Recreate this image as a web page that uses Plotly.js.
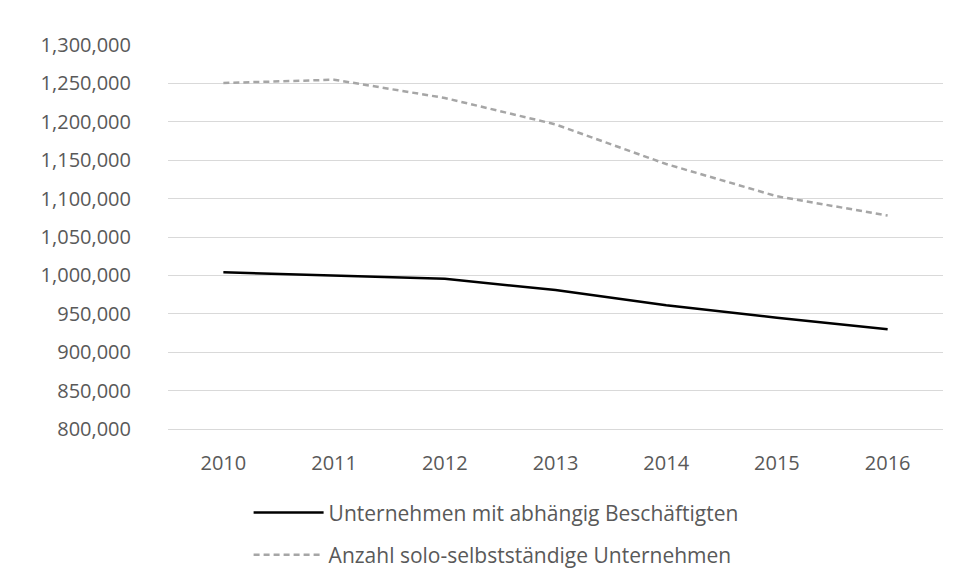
<!DOCTYPE html>
<html>
<head>
<meta charset="utf-8">
<script src="https://cdn.plot.ly/plotly-3.0.1.min.js"></script>
<style>
  body { margin: 0; background: #fff; }
  #chart { width: 958px; height: 583px; }
</style>
</head>
<body>
<div id="chart"></div>
<script>
// Jahre und Werte
const years = ["2010", "2011", "2012", "2013", "2014", "2015", "2016"];
const abhaengig = [1004000, 1000000, 995500, 981000, 961000, 945000, 930000];
const solo = [1250500, 1254800, 1231000, 1196600, 1145000, 1103000, 1078000];

const nameAbh = "Unternehmen mit abhängig Beschäftigten";
const nameSolo = "Anzahl solo-selbstständige Unternehmen";

const yTicks = [800000, 850000, 900000, 950000, 1000000, 1050000, 1100000, 1150000, 1200000, 1250000, 1300000];

const txtColor = "#595959";
const fontFam = "'Open Sans', 'Noto Sans', sans-serif";

let data = [{
  x: years,
  y: abhaengig,
  name: nameAbh,
  type: "scatter",
  mode: "lines",
  legendgroup: "a",
  line: {color: "#000000", width: 2.5}
}, {
  x: years,
  y: solo,
  name: nameSolo,
  type: "scatter",
  mode: "lines",
  legendgroup: "b",
  line: {color: "#a6a6a6", width: 2.5, dash: "6px,4px"}
}];

let layout = {
  width: 958,
  height: 583,
  margin: {l: 168, r: 15, t: 45, b: 154, autoexpand: false},
  paper_bgcolor: "#ffffff",
  plot_bgcolor: "#ffffff",
  font: {family: fontFam, size: 20, color: txtColor},
  showlegend: true,
  xaxis: {
    type: "category",
    range: [-0.5, 6.5],
    showgrid: false,
    showline: true,
    linecolor: "#d9d9d9",
    linewidth: 1,
    ticks: "",
    ticklabelstandoff: 16,
    tickfont: {size: 20, color: txtColor},
    fixedrange: true
  },
  yaxis: {
    range: [800000, 1300000],
    tickvals: yTicks,
    tickformat: ",d",
    showgrid: true,
    gridcolor: "#d9d9d9",
    gridwidth: 1,
    zeroline: false,
    showline: false,
    ticks: "",
    ticklabelstandoff: 36,
    tickfont: {size: 20, color: txtColor},
    fixedrange: true
  },
  legend: {
    orientation: "v",
    x: 0.104,
    xanchor: "left",
    y: -0.165,
    yanchor: "top",
    itemwidth: 70,
    tracegroupgap: 12,
    font: {size: 21, color: txtColor},
    bgcolor: "rgba(0,0,0,0)"
  }
};

Plotly.newPlot("chart", data, layout, {displayModeBar: false, staticPlot: true});
</script>
</body>
</html>
